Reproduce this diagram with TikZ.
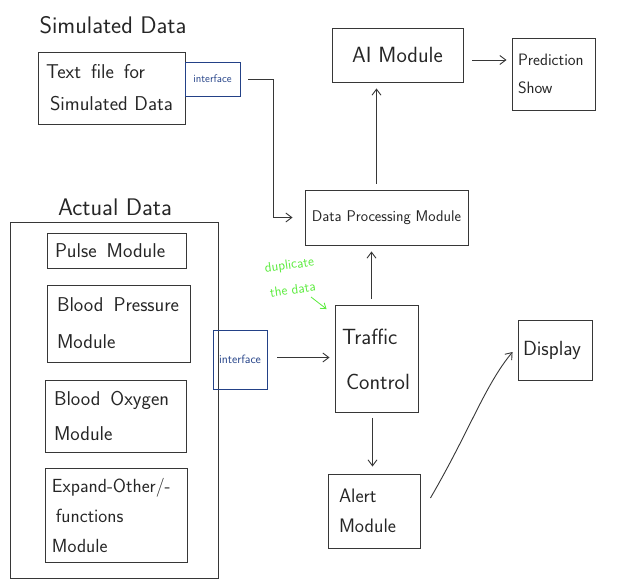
\documentclass[tikz,border=0pt]{standalone}
\usetikzlibrary{arrows.meta}
\definecolor{ink}{RGB}{55,55,55}
\definecolor{blueink}{RGB}{35,65,135}
\definecolor{greenink}{RGB}{90,235,60}
\tikzset{
  hbox/.style={draw=ink, line width=0.9pt, inner sep=0pt, align=left, text=black!85},
  fs/.style n args={2}{font=\sffamily\fontsize{#1}{#2}\selectfont},
  ifbox/.style={draw=blueink, line width=0.9pt, inner sep=0pt, align=center, text=blueink},
  ttl/.style={font=\sffamily\fontsize{24}{28}\selectfont, text=black!85, inner sep=0pt},
  arr/.style={draw=ink, line width=0.9pt, -{Straight Barb[length=6pt,width=9pt]}},
  garr/.style={draw=greenink, line width=0.8pt, -{Straight Barb[length=5pt,width=7pt]}},
}
\begin{document}
\begin{tikzpicture}[x=1pt,y=-1pt]
\useasboundingbox (0,0) rectangle (633,587);
% titles
\node[ttl] (simt) at (113,25) {Simulated Data};
\node[ttl] (actt) at (115,207) {Actual Data};
% simulated data
\node[hbox, fs={20}{32}, minimum width=147, minimum height=72, text width=131] (sim) at (111.5,88) {Text\enspace file\enspace for\\\hspace*{4pt}Simulated Data};
\node[ifbox, fs={11}{13}, minimum width=55, minimum height=34] (if1) at (212.5,79) {interface};
% actual data
\node[draw=ink, line width=0.9pt, minimum width=208, minimum height=356, inner sep=0pt] (act) at (114,400) {};
\node[hbox, fs={20}{24}, minimum width=139, minimum height=35, text width=123] (pulse) at (116.5,250.5) {Pulse\enspace Module};
\node[hbox, fs={20}{37}, minimum width=143, minimum height=77, text width=123] (bp) at (118.5,323.5) {Blood\enspace Pressure\\Module};
\node[hbox, fs={20}{35}, minimum width=141, minimum height=72, text width=123] (bo) at (115.5,416) {Blood\enspace Oxygen\\Module};
\node[hbox, fs={19}{30}, minimum width=142, minimum height=94, text width=128] (exp) at (116,515) {\mbox{Expand-Other/-}\\\hspace*{4pt}functions\\Module};
\node[ifbox, fs={12}{14}, minimum width=54, minimum height=59] (if2) at (240,359.5) {interface};
% right side
\node[hbox, fs={22}{26}, minimum width=131, minimum height=54, align=center] (ai) at (397.5,55) {AI Module};
\node[hbox, fs={16.5}{28}, minimum width=83, minimum height=72, text width=71] (pred) at (553.5,74) {Prediction\\Show};
\node[hbox, fs={15.5}{18}, minimum width=163, minimum height=55, align=center] (dpm) at (386.5,217.5) {Data Processing Module};
\node[hbox, fs={22}{45}, minimum width=83, minimum height=107, text width=69] (tc) at (376.5,359) {Traffic\\\hspace*{4pt}Control};
\node[hbox, fs={19.5}{30}, minimum width=92, minimum height=74, text width=70] (alert) at (374,511) {Alert\\Module};
\node[hbox, fs={20.5}{24}, minimum width=74, minimum height=60, text width=64] (disp) at (555,350) {Display};
% green note
\node[fs={13.5}{25}, text=greenink, align=center, rotate=8, inner sep=0pt] (dup) at (291,277) {duplicate\\the data};
\coordinate (gstart) at (311,297);
% connectors
\draw[arr, shorten <=8pt, shorten >=12pt] (if1.east) -- ++(33,0) |- (dpm.west);
\draw[arr, shorten <=9pt, shorten >=5pt] ([yshift=-5pt]ai.east) -- ([yshift=-5pt]ai.east -| pred.west);
\draw[arr, shorten <=6pt, shorten >=6pt] ([xshift=-10pt]dpm.north) -- ([xshift=-10pt]dpm.north |- ai.south);
\draw[arr, shorten <=6pt, shorten >=6pt] ([xshift=-5pt]tc.north) -- ([xshift=-5pt]tc.north |- dpm.south);
\draw[arr, shorten <=10pt, shorten >=5pt] ([yshift=2pt]if2.east) -- ([yshift=2pt]if2.east -| tc.west);
\draw[arr, shorten <=5pt, shorten >=7pt] ([xshift=-4pt]tc.south) -- ([xshift=-4pt]tc.south |- alert.north);
\draw[arr] ([xshift=10pt,yshift=13pt]alert.east) .. controls (470,430) and (485,385) .. ([xshift=-5pt,yshift=-2pt]disp.west);
\draw[garr] (gstart) -- ([xshift=-8pt,yshift=-4pt]tc.north west);
\end{tikzpicture}
\end{document}
